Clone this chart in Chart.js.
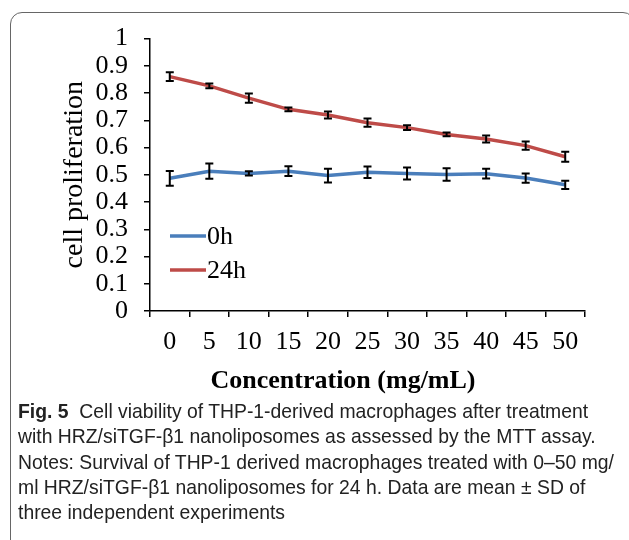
<!DOCTYPE html>
<html>
<head>
<meta charset="utf-8">
<script src="https://cdn.jsdelivr.net/npm/chart.js@4.4.1/dist/chart.umd.min.js"></script>
<style>
  html, body { margin: 0; padding: 0; background: #fff; }
  body { width: 629px; height: 540px; position: relative; overflow: hidden; }
  #frame {
    position: absolute; left: 10px; top: 12px; width: 625px; height: 600px;
    border: 1.5px solid #666; border-radius: 12px; box-sizing: border-box;
  }
  #wrap { position: absolute; left: 0; top: 0; width: 629px; height: 400px; }
  #caption {
    position: absolute; left: 18px; top: 398px;
    font-family: 'Liberation Sans', Arial, sans-serif;
    font-size: 21px; line-height: 25.3px; color: #222;
    transform-origin: 0 0;
  }
  #caption div { white-space: nowrap; }
  #caption b { font-weight: bold; }
</style>
</head>
<body>
<div id="frame"></div>
<div id="wrap"><canvas id="cellChart" width="629" height="400"></canvas></div>
<div id="caption">
  <div id="capFirst"><b>Fig. 5</b>&nbsp; Cell viability of THP-1-derived macrophages after treatment</div>
  <div>with HRZ/siTGF-β1 nanoliposomes as assessed by the MTT assay.</div>
  <div>Notes: Survival of THP-1 derived macrophages treated with 0–50 mg/</div>
  <div>ml HRZ/siTGF-β1 nanoliposomes for 24 h. Data are mean ± SD of</div>
  <div>three independent experiments</div>
</div>
<script>
// Cell proliferation (MTT) data
const concentrations = ['0', '5', '10', '15', '20', '25', '30', '35', '40', '45', '50'];
const values0h = [0.487, 0.513, 0.505, 0.513, 0.497, 0.509, 0.505, 0.501, 0.504, 0.488, 0.463];
const errors0h = [0.027, 0.028, 0.008, 0.018, 0.025, 0.021, 0.022, 0.023, 0.018, 0.017, 0.015];
const values24h = [0.860, 0.826, 0.781, 0.740, 0.719, 0.691, 0.673, 0.648, 0.631, 0.607, 0.566];
const errors24h = [0.016, 0.009, 0.017, 0.007, 0.013, 0.015, 0.009, 0.007, 0.013, 0.015, 0.018];
const yTickLabels = ['0', '0.1', '0.2', '0.3', '0.4', '0.5', '0.6', '0.7', '0.8', '0.9', '1'];

const serif = "'Liberation Serif', 'Times New Roman', serif";
const blue = '#4a7ebb';
const red = '#be4b48';

// squeeze the caption so the first line spans the frame like the original
const cap = document.getElementById('caption');
const firstW = document.getElementById('capFirst').getBoundingClientRect().width;
cap.style.transform = 'scaleX(' + (596 / firstW) + ')';

// error bars, legend and x title drawn over the chart
const extras = {
    id: 'extras',
    afterDatasetsDraw(chart) {
        const ctx = chart.ctx;
        const xs = chart.scales.x, ys = chart.scales.y;
        ctx.save();
        ctx.strokeStyle = '#000';
        ctx.lineWidth = 2;
        chart.data.datasets.forEach(ds => {
            ds.data.forEach((v, i) => {
                const x = xs.getPixelForValue(i);
                const top = ys.getPixelForValue(v + ds.errors[i]);
                const bot = ys.getPixelForValue(v - ds.errors[i]);
                ctx.beginPath();
                ctx.moveTo(x, top); ctx.lineTo(x, bot);
                ctx.moveTo(x - 4, top); ctx.lineTo(x + 4, top);
                ctx.moveTo(x - 4, bot); ctx.lineTo(x + 4, bot);
                ctx.stroke();
            });
        });
        ctx.restore();
    },
    afterDraw(chart) {
        const ctx = chart.ctx;
        const area = chart.chartArea;
        ctx.save();
        // legend
        ctx.font = '26px ' + serif;
        ctx.textBaseline = 'middle';
        ctx.fillStyle = '#000';
        chart.data.datasets.forEach((ds, i) => {
            const y = 236 + i * 34;
            ctx.strokeStyle = ds.borderColor;
            ctx.lineWidth = 3.5;
            ctx.beginPath();
            ctx.moveTo(area.left + 20, y); ctx.lineTo(area.left + 56, y);
            ctx.stroke();
            ctx.fillText(ds.label, area.left + 57, y + 1);
        });
        // x axis title
        ctx.font = 'bold 26px ' + serif;
        ctx.textAlign = 'center';
        ctx.fillText('Concentration (mg/mL)', 343, 381);
        ctx.restore();
    }
};

const ctx = document.getElementById('cellChart').getContext('2d');
const cellChart = new Chart(ctx, {
    type: 'line',
    data: {
        labels: concentrations,
        datasets: [{
            label: '0h',
            data: values0h,
            errors: errors0h,
            borderColor: blue,
            borderWidth: 3.5,
            pointRadius: 0,
            tension: 0
        }, {
            label: '24h',
            data: values24h,
            errors: errors24h,
            borderColor: red,
            borderWidth: 3.5,
            pointRadius: 0,
            tension: 0
        }]
    },
    options: {
        responsive: false,
        animation: false,
        layout: { padding: { left: 0, top: 38.5, right: 44, bottom: 0 } },
        plugins: { legend: { display: false }, tooltip: { enabled: false } },
        scales: {
            x: {
                offset: true,
                grid: { offset: true, drawOnChartArea: false, drawTicks: true, tickLength: 6, color: '#000', lineWidth: 1.5 },
                border: { display: true, color: '#000', width: 1.5 },
                ticks: { color: '#000', padding: 10, maxRotation: 0, autoSkip: false, font: { family: serif, size: 26 } },
                afterFit(scale) { scale.height = 89; }
            },
            y: {
                min: 0,
                max: 1,
                ticks: {
                    stepSize: 0.1,
                    autoSkip: false,
                    color: '#000',
                    padding: 16,
                    font: { family: serif, size: 26 },
                    callback: (v, i) => yTickLabels[i]
                },
                grid: { drawOnChartArea: false, drawTicks: true, tickLength: 6, color: '#000', lineWidth: 1.5 },
                border: { display: true, color: '#000', width: 1.5 },
                title: {
                    display: true,
                    text: 'cell proliferation',
                    color: '#000',
                    font: { family: serif, size: 28 },
                    padding: { top: 58, bottom: 0 }
                },
                afterFit(scale) { scale.width = 150; }
            }
        }
    },
    plugins: [extras]
});
</script>
</body>
</html>
